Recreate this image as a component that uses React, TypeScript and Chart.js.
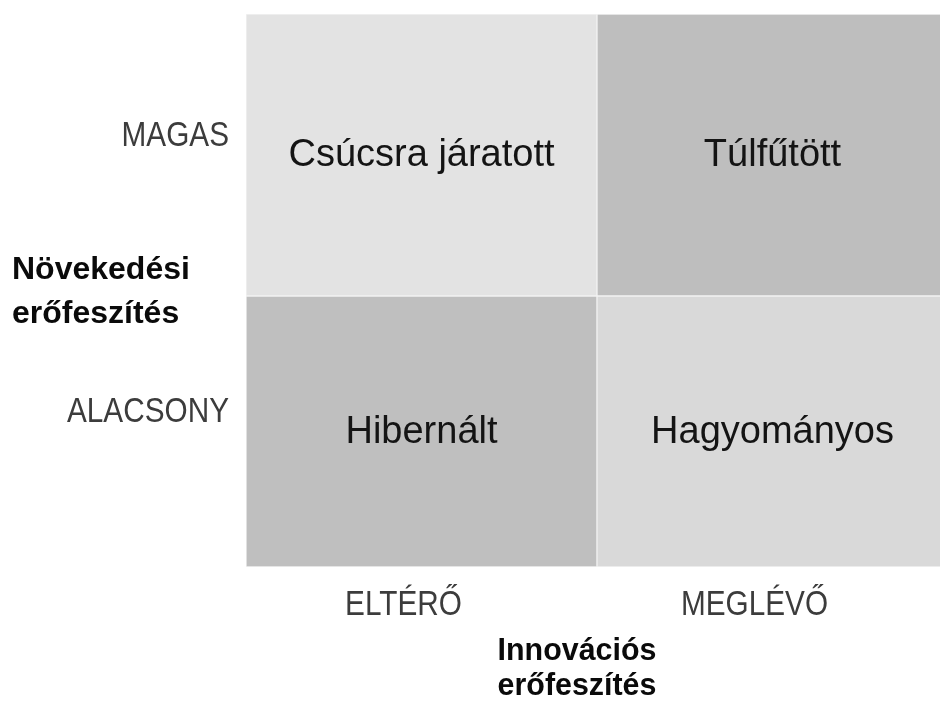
import React, { useEffect, useRef } from "react";
import { Chart, registerables } from "chart.js";

Chart.register(...registerables);

const xCategories = ["ELTÉRŐ", "MEGLÉVŐ"];
const yCategories = ["ALACSONY", "MAGAS"];
const rowSplit = 0.98;
const rowLow = [[0, rowSplit], [0, rowSplit]];
const rowHigh = [[rowSplit, 2], [rowSplit, 2]];
const yTickValues = [rowSplit / 2, (rowSplit + 2) / 2];
const lowLabels = ["Hibernált", "Hagyományos"];
const highLabels = ["Csúcsra járatott", "Túlfűtött"];
const lowColors = ["#bfbfbf", "#d9d9d9"];
const highColors = ["#e3e3e3", "#bebebe"];
const yTitle = ["Növekedési", "erőfeszítés"];
const xTitle = ["Innovációs", "erőfeszítés"];

const SANS = "'Liberation Sans', Arial, sans-serif";
const NARROW_SCALE = 0.85;

const cellLabelPlugin = {
  id: "cellLabels",
  afterDatasetsDraw(chart: any) {
    const ctx = chart.ctx;
    ctx.save();
    ctx.font = `38px ${SANS}`;
    ctx.fillStyle = "#141414";
    ctx.textAlign = "center";
    ctx.textBaseline = "middle";
    chart.data.datasets.forEach((ds: any, di: number) => {
      const meta = chart.getDatasetMeta(di);
      meta.data.forEach((bar: any, i: number) => {
        const cy = (bar.y + bar.base) / 2;
        ctx.fillText(ds.cellLabels[i], bar.x, cy + 1);
      });
    });
    ctx.restore();
  },
  afterDraw(chart: any) {
    const ctx = chart.ctx;
    const a = chart.chartArea;
    const xs = chart.scales.x;
    const ys = chart.scales.y;

    // condensed tick labels
    ctx.save();
    ctx.font = `35px ${SANS}`;
    ctx.fillStyle = "#3c3c3c";
    ctx.textBaseline = "middle";
    ctx.scale(NARROW_SCALE, 1);
    ctx.textAlign = "right";
    ys.ticks.forEach((t: any, i: number) => {
      const py = ys.getPixelForValue(t.value) - 19;
      ctx.fillText(yCategories[i], (a.left - 17) / NARROW_SCALE, py);
    });
    ctx.textAlign = "center";
    ctx.textBaseline = "alphabetic";
    xCategories.forEach((lab, i) => {
      const px = xs.getPixelForValue(i) - 18;
      ctx.fillText(lab, px / NARROW_SCALE, a.bottom + 48);
    });
    ctx.restore();

    // axis titles
    ctx.save();
    ctx.font = `bold 32px ${SANS}`;
    ctx.fillStyle = "#0a0a0a";
    ctx.textBaseline = "alphabetic";
    ctx.textAlign = "left";
    const cy = (a.top + a.bottom) / 2;
    ctx.fillText(yTitle[0], 12, cy - 12);
    ctx.fillText(yTitle[1], 12, cy + 32);
    ctx.restore();

    ctx.save();
    ctx.font = `bold 32px ${SANS}`;
    ctx.fillStyle = "#0a0a0a";
    ctx.textBaseline = "alphabetic";
    ctx.textAlign = "center";
    const sx = 0.95;
    ctx.scale(sx, 1);
    const cx = (a.left + a.right) / 2 - 20;
    ctx.fillText(xTitle[0], cx / sx, a.bottom + 93);
    ctx.fillText(xTitle[1], cx / sx, a.bottom + 128);
    ctx.restore();
  },
};

export default function App() {
  const ref = useRef<HTMLCanvasElement>(null);
  useEffect(() => {
    document.body.style.margin = "0";
    const common = {
      borderColor: "#f2f2f2",
      borderWidth: 1,
      borderSkipped: false,
      grouped: false,
      barPercentage: 1,
      categoryPercentage: 1,
    };
    const chart = new Chart(ref.current!, {
      type: "bar",
      data: {
        labels: xCategories,
        datasets: [
          { label: "low", data: rowLow as any, backgroundColor: lowColors, cellLabels: lowLabels, ...common } as any,
          { label: "high", data: rowHigh as any, backgroundColor: highColors, cellLabels: highLabels, ...common } as any,
        ],
      },
      options: {
        animation: false,
        responsive: false,
        maintainAspectRatio: false,
        layout: { padding: { top: 14, left: 0, right: 0, bottom: 0 } },
        plugins: { legend: { display: false }, tooltip: { enabled: false } },
        scales: {
          x: {
            grid: { display: false, drawTicks: false },
            border: { display: false },
            ticks: { display: false },
            afterFit: (s: any) => {
              s.height = 141;
              s.paddingLeft = 0;
              s.paddingRight = 0;
            },
          },
          y: {
            min: 0,
            max: 2,
            grid: { display: false, drawTicks: false },
            border: { display: false },
            afterBuildTicks: (s: any) => {
              s.ticks = yTickValues.map((v) => ({ value: v }));
            },
            ticks: { display: false },
            afterFit: (s: any) => {
              s.width = 246;
              s.paddingTop = 0;
              s.paddingBottom = 0;
            },
          },
        },
      },
      plugins: [cellLabelPlugin],
    });
    return () => chart.destroy();
  }, []);
  return (
    <div style={{ position: "absolute", left: 0, top: 0, width: 940, height: 708, overflow: "hidden", background: "#fff" }}>
      <canvas ref={ref} width={948} height={708} style={{ width: 948, height: 708, display: "block" }} />
    </div>
  );
}
